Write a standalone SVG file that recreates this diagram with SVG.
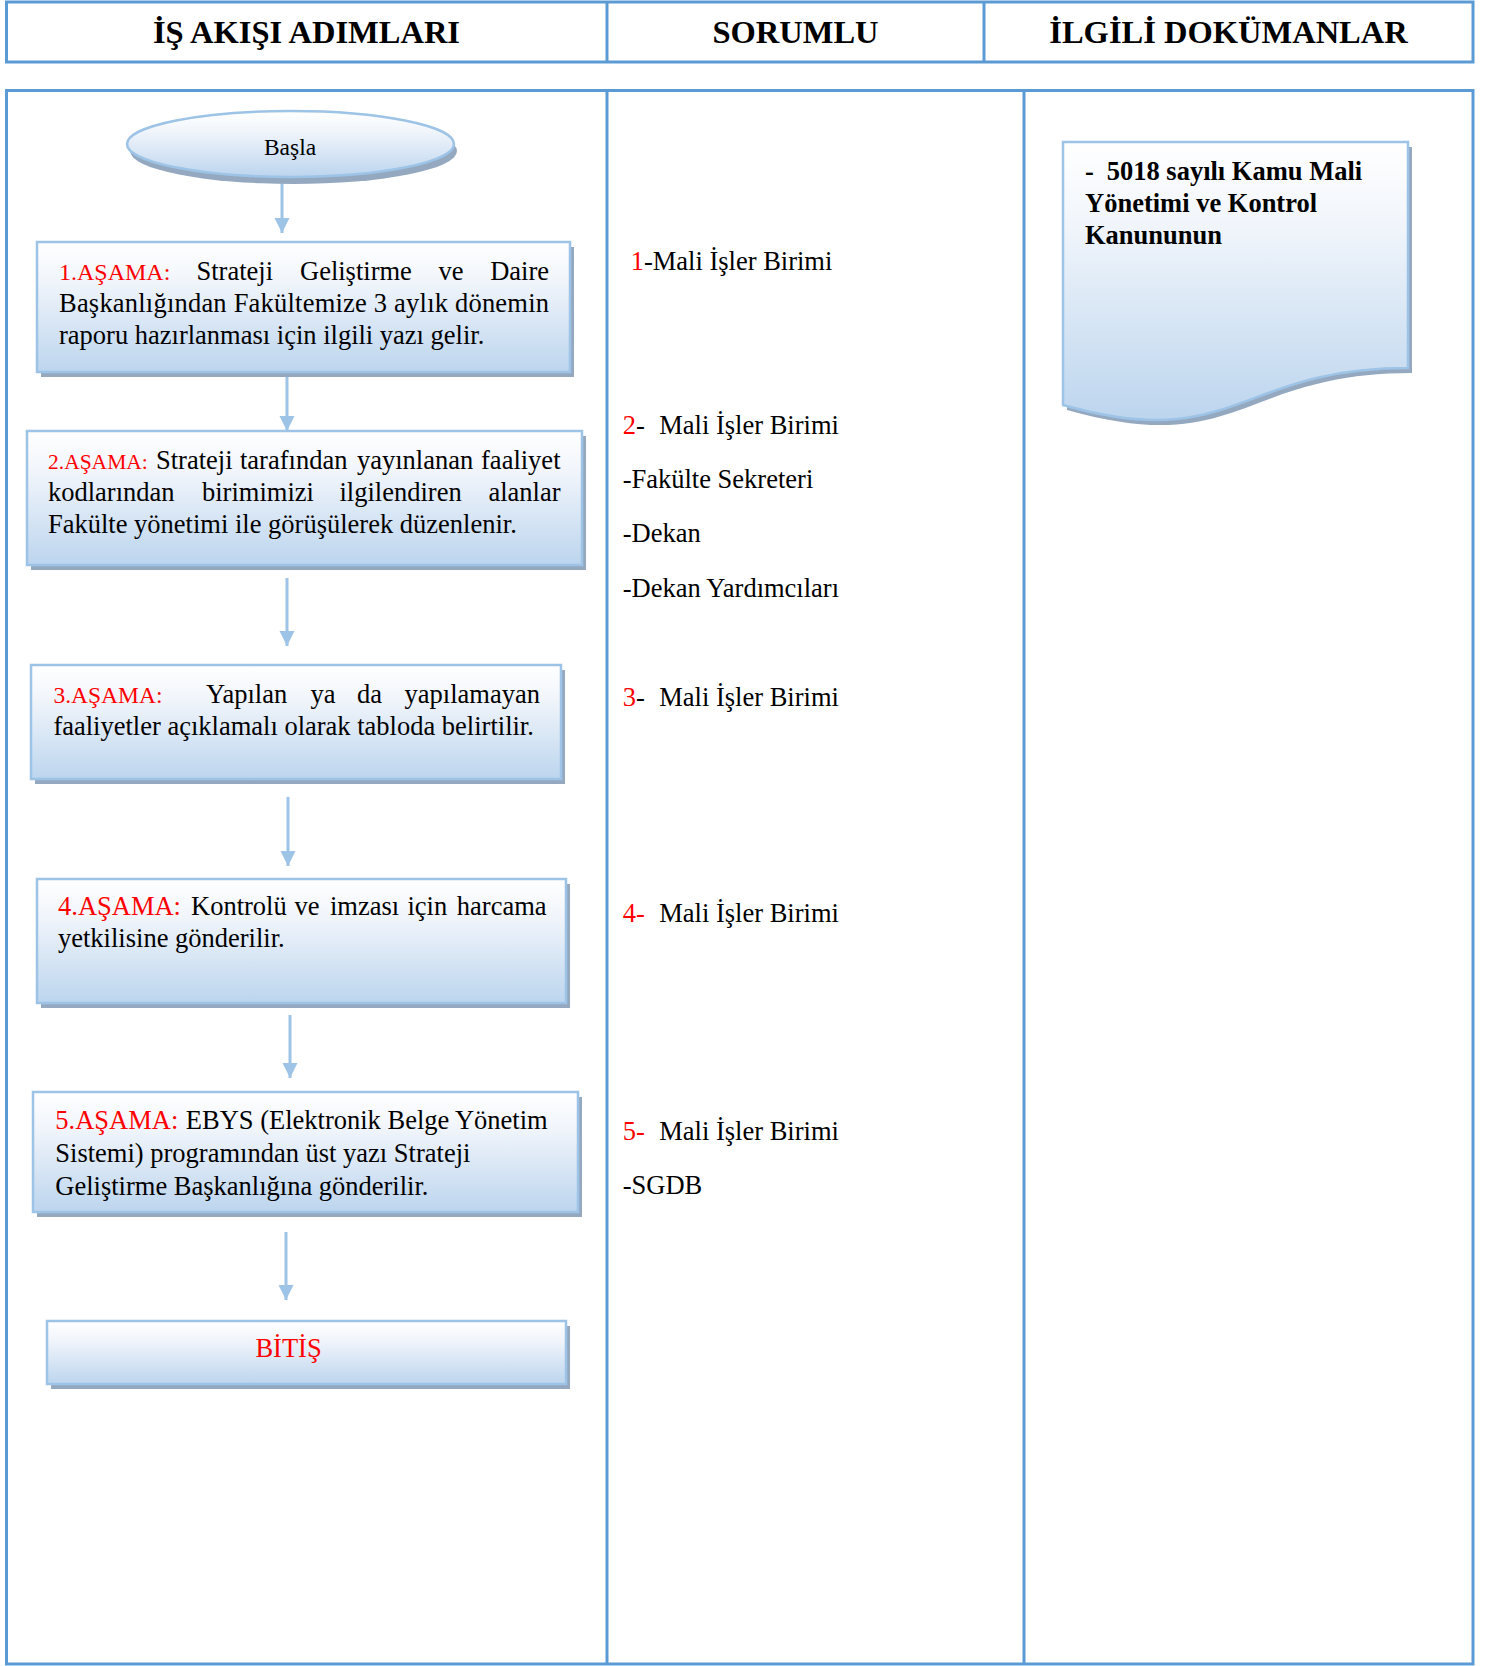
<svg xmlns="http://www.w3.org/2000/svg" width="1488" height="1666" viewBox="0 0 1488 1666">
<defs>
<linearGradient id="boxfill" x1="0" y1="0" x2="0" y2="1">
<stop offset="0" stop-color="#FFFFFF"/>
<stop offset="0.3" stop-color="#F1F5FB"/>
<stop offset="1" stop-color="#BCD5EE"/>
</linearGradient>
<marker id="ah" markerUnits="userSpaceOnUse" markerWidth="16" markerHeight="16" refX="15" refY="7.5" orient="auto">
<path d="M0,0 L15,7.5 L0,15 Z" fill="#9DC3E6"/>
</marker>
<style>
.grid{fill:none;stroke:#5B9BD5;stroke-width:3}
.gl{stroke:#5B9BD5;stroke-width:3}
.hd{font-family:"Liberation Serif","Times New Roman",serif;font-weight:bold;font-size:32.5px;fill:#000;text-anchor:middle}
.box{fill:url(#boxfill);stroke:#9DC3E6;stroke-width:2.5}
.sh{fill:#94A9C0}
.t{font-family:"Liberation Serif","Times New Roman",serif;font-size:26.5px;fill:#000}
.b{font-weight:bold}
.r{fill:#FF0000}
.con{stroke:#9DC3E6;stroke-width:3;fill:none;marker-end:url(#ah)}
</style>
</defs>
<rect width="1488" height="1666" fill="#FFFFFF"/>

<g id="table">
<rect class="grid" x="6.5" y="2" width="1466.5" height="60"/>
<line class="gl" x1="607" y1="2" x2="607" y2="62"/>
<line class="gl" x1="984" y1="2" x2="984" y2="62"/>
<text class="hd" x="306.5" y="42.5">İŞ AKIŞI ADIMLARI</text>
<text class="hd" x="795.5" y="42.5">SORUMLU</text>
<text class="hd" x="1228.5" y="42.5">İLGİLİ DOKÜMANLAR</text>
<rect class="grid" x="6.5" y="90.5" width="1466.5" height="1573.5"/>
<line class="gl" x1="607" y1="90.5" x2="607" y2="1664"/>
<line class="gl" x1="1024" y1="90.5" x2="1024" y2="1664"/>
</g>

<g id="connectors">
<line class="con" x1="282" y1="174" x2="282" y2="233"/>
<line class="con" x1="287" y1="377" x2="287" y2="431"/>
<line class="con" x1="287" y1="578" x2="287" y2="646"/>
<line class="con" x1="288" y1="797" x2="288" y2="866"/>
<line class="con" x1="290" y1="1015" x2="290" y2="1078"/>
<line class="con" x1="286" y1="1232" x2="286" y2="1300"/>
</g>

<g id="start">
<ellipse class="sh" cx="293.5" cy="151" rx="163.5" ry="33"/>
<ellipse class="box" cx="290.5" cy="144" rx="163.5" ry="33"/>
<text class="t" x="290" y="155" text-anchor="middle" style="font-size:23.5px">Başla</text>
</g>

<g id="step1">
<rect class="sh" x="41" y="247" width="533" height="130"/>
<rect class="box" x="37" y="242" width="533" height="130"/>
<text class="t" y="280"><tspan class="r" x="59" style="font-size:24px">1.AŞAMA:</tspan><tspan x="196.5">Strateji</tspan><tspan x="300">Geliştirme</tspan><tspan x="438.5">ve</tspan></text>
<text class="t" x="549" y="280" text-anchor="end">Daire</text>
<text class="t" x="59" y="312" textLength="490" lengthAdjust="spacing">Başkanlığından Fakültemize 3 aylık dönemin</text>
<text class="t" x="59" y="343.5">raporu hazırlanması için ilgili yazı gelir.</text>
</g>

<g id="step2">
<rect class="sh" x="31" y="436" width="555" height="134"/>
<rect class="box" x="27" y="431" width="555" height="134"/>
<text class="t" y="468.5"><tspan class="r" x="48" style="font-size:21.5px">2.AŞAMA:</tspan><tspan x="156">Strateji</tspan><tspan x="240">tarafından</tspan><tspan x="357">yayınlanan</tspan></text>
<text class="t" x="560.5" y="468.5" text-anchor="end">faaliyet</text>
<text class="t" y="500.5"><tspan x="48">kodlarından</tspan><tspan x="202">birimimizi</tspan><tspan x="339.5">ilgilendiren</tspan></text>
<text class="t" x="560.5" y="500.5" text-anchor="end">alanlar</text>
<text class="t" x="48" y="532.5">Fakülte yönetimi ile görüşülerek düzenlenir.</text>
</g>

<g id="step3">
<rect class="sh" x="35" y="670" width="530" height="114"/>
<rect class="box" x="31" y="665" width="530" height="114"/>
<text class="t" y="703"><tspan class="r" x="53.4" style="font-size:23.5px">3.AŞAMA:</tspan><tspan x="206">Yapılan</tspan><tspan x="310.5">ya</tspan><tspan x="357">da</tspan></text>
<text class="t" x="540" y="703" text-anchor="end">yapılamayan</text>
<text class="t" x="53.4" y="734.5">faaliyetler açıklamalı olarak tabloda belirtilir.</text>
</g>

<g id="step4">
<rect class="sh" x="41" y="884" width="529" height="124"/>
<rect class="box" x="37" y="879" width="529" height="124"/>
<text class="t" y="915"><tspan class="r" x="58">4.AŞAMA:</tspan><tspan x="191">Kontrolü</tspan><tspan x="294.5">ve</tspan><tspan x="330">imzası</tspan><tspan x="407.5">için</tspan></text>
<text class="t" x="546.6" y="915" text-anchor="end">harcama</text>
<text class="t" x="58" y="947">yetkilisine gönderilir.</text>
</g>

<g id="step5">
<rect class="sh" x="37" y="1097" width="545" height="120"/>
<rect class="box" x="33" y="1092" width="545" height="120"/>
<text class="t" y="1128.5"><tspan class="r" x="55.3">5.AŞAMA:</tspan><tspan x="185.8">EBYS (Elektronik Belge Yönetim</tspan></text>
<text class="t" x="55.3" y="1161.5">Sistemi) programından üst yazı Strateji</text>
<text class="t" x="55.3" y="1194.5">Geliştirme Başkanlığına gönderilir.</text>
</g>

<g id="end">
<rect class="sh" x="51" y="1326" width="519" height="63"/>
<rect class="box" x="47" y="1321" width="519" height="63"/>
<text class="t r" x="288.5" y="1357" text-anchor="middle">BİTİŞ</text>
</g>

<g id="responsible">
<text class="t" y="270"><tspan class="r" x="630.7">1</tspan><tspan>-Mali İşler Birimi</tspan></text>
<text class="t" y="433.5"><tspan class="r" x="622.7">2</tspan><tspan>-</tspan><tspan x="659.3">Mali İşler Birimi</tspan></text>
<text class="t" x="622.7" y="488">-Fakülte Sekreteri</text>
<text class="t" x="622.7" y="542">-Dekan</text>
<text class="t" x="622.7" y="596.5">-Dekan Yardımcıları</text>
<text class="t" y="705.5"><tspan class="r" x="622.7">3</tspan><tspan>-</tspan><tspan x="659.3">Mali İşler Birimi</tspan></text>
<text class="t" y="921.7"><tspan class="r" x="622.7">4-</tspan><tspan x="659.3">Mali İşler Birimi</tspan></text>
<text class="t" y="1140"><tspan class="r" x="622.7">5-</tspan><tspan x="659.3">Mali İşler Birimi</tspan></text>
<text class="t" x="622.7" y="1194">-SGDB</text>
</g>

<g id="document">
<path class="sh" d="M1067,147 H1412 V373 C1240,373 1240,459 1067,410 Z"/>
<path class="box" d="M1063,142 H1408 V368 C1236,368 1236,454 1063,405 Z"/>
<text class="t b" y="180"><tspan x="1085">-</tspan><tspan x="1106.7">5018 sayılı Kamu Mali</tspan></text>
<text class="t b" x="1085" y="211.7">Yönetimi ve Kontrol</text>
<text class="t b" x="1085" y="243.5">Kanununun</text>
</g>
</svg>
